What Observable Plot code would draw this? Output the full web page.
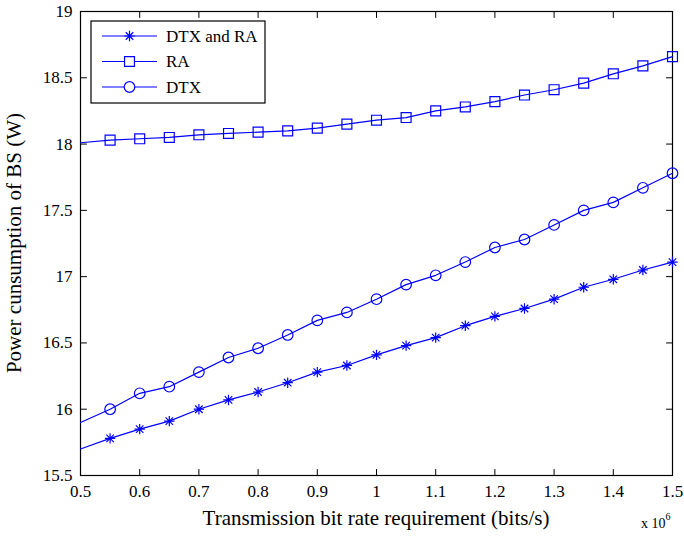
<!DOCTYPE html>
<html><head><meta charset="utf-8">
<script src="https://cdn.jsdelivr.net/npm/d3@7"></script>
<script src="https://cdn.jsdelivr.net/npm/@observablehq/plot@0.6"></script>
<style>
body{margin:0;background:#fff;}
#chart{position:relative;width:684px;height:536px;}
#chart svg text{font-family:'Liberation Serif','Times New Roman',Times,serif;}
</style></head><body><div id="chart"></div>
<script>
// ---- data (x in units of 10^6 bits/s, y in W) ----
const rates = [0.5,0.55,0.6,0.65,0.7,0.75,0.8,0.85,0.9,0.95,1.0,1.05,1.1,1.15,1.2,1.25,1.3,1.35,1.4,1.45,1.5];
const dtxRa = [15.70,15.78,15.85,15.91,16.00,16.07,16.13,16.20,16.28,16.33,16.41,16.48,16.54,16.63,16.70,16.76,16.83,16.92,16.98,17.05,17.11];
const ra    = [18.01,18.03,18.04,18.05,18.07,18.08,18.09,18.10,18.12,18.15,18.18,18.20,18.25,18.28,18.32,18.37,18.41,18.46,18.53,18.59,18.66];
const dtx   = [15.90,16.00,16.12,16.17,16.28,16.39,16.46,16.56,16.67,16.73,16.83,16.94,17.01,17.11,17.22,17.28,17.39,17.50,17.56,17.67,17.78];
const xTicks = [0.5,0.6,0.7,0.8,0.9,1.0,1.1,1.2,1.3,1.4,1.5];
const yTicks = [15.5,16,16.5,17,17.5,18,18.5,19];
const seriesNames = ["DTX and RA","RA","DTX"];
const xLabel = "Transmission bit rate requirement (bits/s)";
const yLabel = "Power cunsumption of BS (W)";

const BLUE = "#0000ff";
const FONT = "'Liberation Serif','Times New Roman',Times,serif";

// MATLAB-like '*' marker: plus + x
const starSymbol = {
  draw(ctx, size) {
    const s = Math.sqrt(size / Math.PI);
    const d = s * 0.72;
    ctx.moveTo(0, -s); ctx.lineTo(0, s);
    ctx.moveTo(-s, 0); ctx.lineTo(s, 0);
    ctx.moveTo(-d, -d); ctx.lineTo(d, d);
    ctx.moveTo(-d, d); ctx.lineTo(d, -d);
  }
};
const tickShape = { draw(ctx, l) { ctx.moveTo(0, 0); ctx.lineTo(0, -l); } };

const rows = rates.map((x, i) => ({x, dtxRa: dtxRa[i], ra: ra[i], dtx: dtx[i]}));
const markerRows = rows.filter(d => d.x > 0.5);

const series = [
  {key: "dtxRa", name: seriesNames[0], symbol: starSymbol, r: 5.2},
  {key: "ra",    name: seriesNames[1], symbol: "square",   r: 5.6},
  {key: "dtx",   name: seriesNames[2], symbol: "circle",   r: 5.3}
];

const fmt = d3.format("~g");
const tickOpts = {length: 6, anchor: "start", shape: tickShape, stroke: "black", strokeWidth: 1};
const axisText = {fontFamily: FONT, fontSize: 17, fill: "black", label: null, tickFormat: fmt, tickSize: 0};

const plot = Plot.plot({
  width: 684, height: 536,
  marginLeft: 80, marginRight: 12, marginTop: 11, marginBottom: 61,
  style: {fontFamily: FONT, fontSize: "17px", color: "black", background: "white", overflow: "visible"},
  x: {domain: [0.5, 1.5], label: null},
  y: {domain: [15.5, 19], label: null},
  marks: [
    Plot.frame({stroke: "black", strokeWidth: 1.2}),
    Plot.vector(xTicks, {x: d => d, frameAnchor: "bottom", rotate: 0, ...tickOpts}),
    Plot.vector(xTicks, {x: d => d, frameAnchor: "top", rotate: 180, ...tickOpts}),
    Plot.vector(yTicks, {y: d => d, frameAnchor: "left", rotate: 90, ...tickOpts}),
    Plot.vector(yTicks, {y: d => d, frameAnchor: "right", rotate: -90, ...tickOpts}),
    Plot.axisX(xTicks, {anchor: "bottom", tickPadding: 9, ...axisText}),
    Plot.axisY(yTicks, {anchor: "left", tickPadding: 8, ...axisText}),
    ...series.map(s => Plot.line(rows, {x: "x", y: s.key, stroke: BLUE, strokeWidth: 1.2})),
    ...series.map(s => Plot.dot(markerRows, {x: "x", y: s.key, symbol: s.symbol, r: s.r, stroke: BLUE, strokeWidth: 1.2, fill: "none"}))
  ]
});

document.getElementById("chart").appendChild(plot);
const svg = d3.select(plot);

// axis titles
svg.append("text")
  .attr("transform", "translate(21,243) rotate(-90)")
  .attr("text-anchor", "middle")
  .attr("font-size", 21).attr("fill", "black")
  .text(yLabel);
svg.append("text")
  .attr("x", 376).attr("y", 525)
  .attr("text-anchor", "middle")
  .attr("font-size", 21).attr("fill", "black")
  .text(xLabel);
const expo = svg.append("text").attr("x", 641).attr("y", 528)
  .attr("text-anchor", "start")
  .attr("font-size", 14).attr("fill", "black");
expo.append("tspan").text("x 10");
expo.append("tspan").attr("dy", -8).attr("font-size", 10).text("6");

// legend
const lg = svg.append("g").attr("transform", "translate(91,21)");
lg.append("rect").attr("width", 174).attr("height", 82).attr("fill", "white").attr("stroke", "black").attr("stroke-width", 1.2);
series.forEach((s, i) => {
  const cy = 15 + i * 25.5;
  lg.append("line").attr("x1", 11).attr("x2", 66).attr("y1", cy).attr("y2", cy).attr("stroke", BLUE).attr("stroke-width", 1.2);
  const type = s.symbol === "square" ? d3.symbolSquare : s.symbol === "circle" ? d3.symbolCircle : s.symbol;
  lg.append("path").attr("transform", `translate(38.5,${cy})`)
    .attr("d", d3.symbol(type, Math.PI * s.r * s.r)())
    .attr("fill", "white").attr("stroke", BLUE).attr("stroke-width", 1.2);
  lg.append("text").attr("x", 75).attr("y", cy).attr("dy", "0.35em")
    .attr("text-anchor", "start")
    .attr("font-size", 17).attr("fill", "black").text(s.name);
});
// make sure every label uses the serif face
svg.selectAll("text").attr("font-family", FONT);
</script>
</body></html>
